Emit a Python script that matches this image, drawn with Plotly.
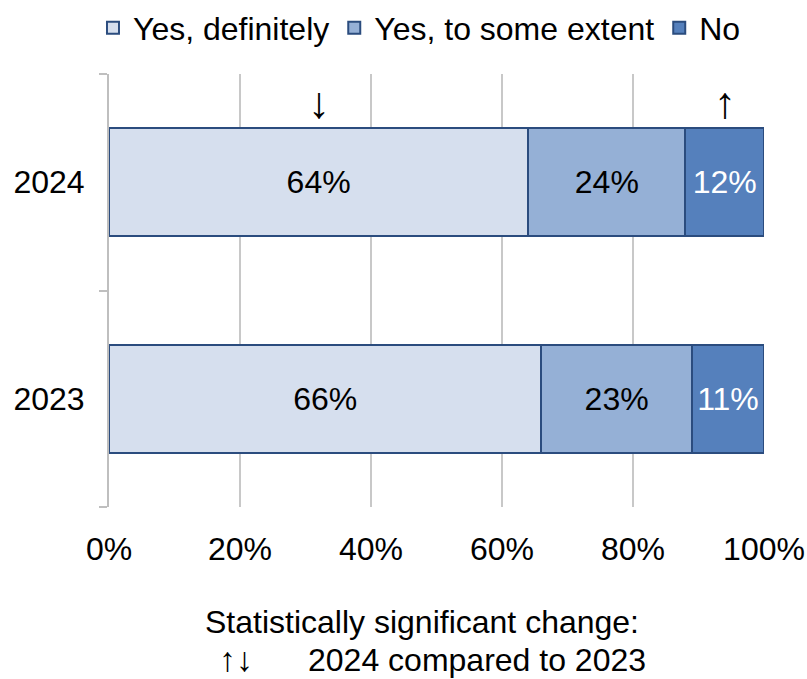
import plotly.graph_objects as go

# Survey response shares by year
years = ["2023", "2024"]
series_names = ["Yes, definitely", "Yes, to some extent", "No"]
yes_definitely = [66, 64]
yes_some_extent = [23, 24]
no_answer = [11, 12]
series_values = [yes_definitely, yes_some_extent, no_answer]

# Significant changes 2024 vs 2023, per series (for the 2024 row)
change_2024 = {"Yes, definitely": "↓", "No": "↑"}

fill_colors = ["#D6DFEE", "#95B0D6", "#5580BC"]
text_colors = ["#000000", "#000000", "#FFFFFF"]
edge_color = "#2B4C7E"
font_family = "Liberation Sans, Arial, sans-serif"
fsize = 32
arrow_size = 44

fig = go.Figure()
for name, vals, fc, tc in zip(series_names, series_values, fill_colors, text_colors):
    fig.add_trace(go.Bar(
        name=name,
        y=years,
        x=[v / 100 for v in vals],
        orientation="h",
        marker=dict(color=fc, line=dict(color=edge_color, width=2)),
        text=[f"{v}%" for v in vals],
        textposition="inside",
        insidetextanchor="middle",
        textangle=0,
        textfont=dict(color=tc, size=fsize, family=font_family),
        hoverinfo="skip",
    ))

# Arrows above the 2024 bar at the centre of each flagged segment
annotations = []
row = years.index("2024")
cum = 0
for name, vals in zip(series_names, series_values):
    v = vals[row]
    if name in change_2024:
        annotations.append(dict(
            x=(cum + v / 2) / 100, y=row + 0.37, xref="x", yref="y",
            yanchor="middle", text=change_2024[name], showarrow=False,
            font=dict(size=arrow_size, color="#000000", family=font_family),
        ))
    cum += v

# Footnote
annotations += [
    dict(x=(422 - 109) / 655, y=(507 - 622) / 433, xref="paper", yref="paper",
         xanchor="center", yanchor="middle",
         text="Statistically significant change:", showarrow=False,
         font=dict(size=fsize, color="#000000", family=font_family)),
    dict(x=(236 - 109) / 655, y=(507 - 659) / 433, xref="paper", yref="paper",
         xanchor="center", yanchor="middle",
         text="↑↓", showarrow=False,
         font=dict(size=34, color="#000000", family=font_family)),
    dict(x=(477 - 109) / 655, y=(507 - 660) / 433, xref="paper", yref="paper",
         xanchor="center", yanchor="middle",
         text="2024 compared to 2023", showarrow=False,
         font=dict(size=fsize, color="#000000", family=font_family)),
]

fig.update_layout(
    width=807, height=679,
    barmode="stack", bargap=0.5,
    plot_bgcolor="#FFFFFF", paper_bgcolor="#FFFFFF",
    margin=dict(l=109, r=43, t=74, b=172, autoexpand=False),
    font=dict(family=font_family, size=fsize, color="#000000"),
    showlegend=True,
    legend=dict(
        orientation="h", x=0.474, xanchor="center",
        yref="container", y=1 - 28 / 679, yanchor="middle",
        font=dict(size=fsize, family=font_family),
        itemclick=False, itemdoubleclick=False, traceorder="normal",
        itemwidth=30, tracegroupgap=0,
    ),
    annotations=annotations,
    xaxis=dict(
        range=[0, 1], dtick=0.2, tickformat=".0%",
        showgrid=True, gridcolor="#C8C8C8", gridwidth=2,
        zeroline=False, showline=False, ticks="",
        ticklabelstandoff=20, fixedrange=True, automargin=False,
    ),
    yaxis=dict(
        type="category", categoryorder="array", categoryarray=years,
        showgrid=False, zeroline=False,
        showline=True, linecolor="#BFBFBF", linewidth=2,
        ticks="outside", tickson="boundaries", ticklen=8, tickcolor="#BFBFBF", tickwidth=2,
        ticklabelstandoff=16, fixedrange=True, automargin=False,
    ),
)

fig.write_html("out.html")
